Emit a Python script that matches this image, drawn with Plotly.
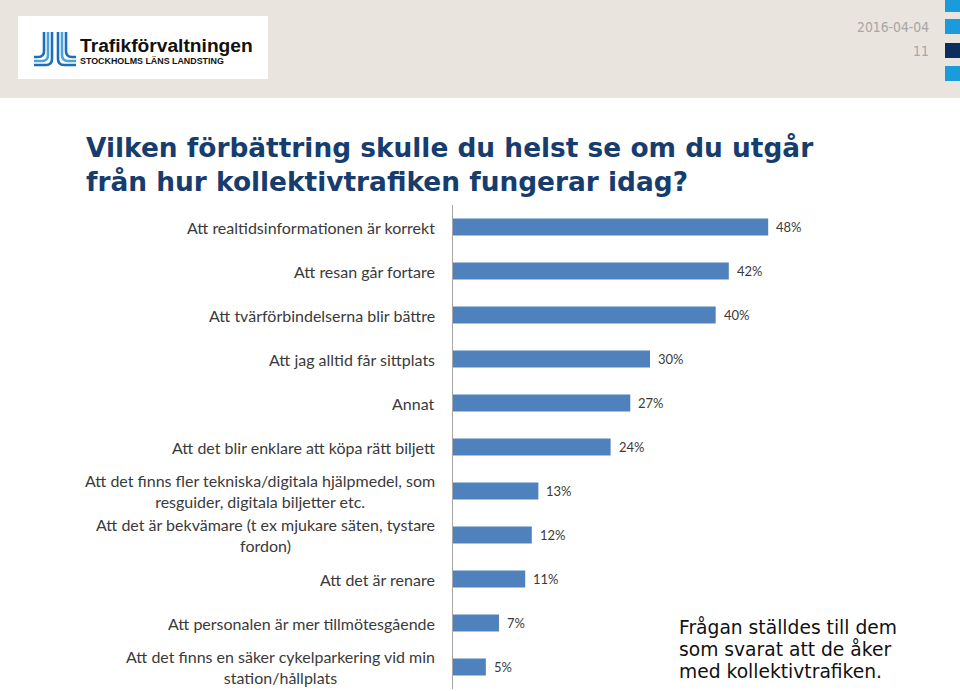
import plotly.graph_objects as go

# ---------------- data ----------------
categories = [
    "Att realtidsinformationen är korrekt",
    "Att resan går fortare",
    "Att tvärförbindelserna blir bättre",
    "Att jag alltid får sittplats",
    "Annat",
    "Att det blir enklare att köpa rätt biljett",
    "Att det finns fler tekniska/digitala hjälpmedel, som<br>resguider, digitala biljetter etc.",
    "Att det är bekvämare (t ex mjukare säten, tystare<br>fordon)",
    "Att det är renare",
    "Att personalen är mer tillmötesgående",
    "Att det finns en säker cykelparkering vid min<br>station/hållplats",
]
values = [48, 42, 40, 30, 27, 24, 13, 12, 11, 7, 5]
value_labels = [f"{v}%" for v in values]

title_lines = [
    "Vilken förbättring skulle du helst se om du utgår",
    "från hur kollektivtrafiken fungerar idag?",
]
note_lines = [
    "Frågan ställdes till dem",
    "som svarat att de åker",
    "med kollektivtrafiken.",
]
date_text = "2016-04-04"
page_text = "11"

# ---------------- geometry helpers ----------------
W, H = 960, 691
PL, PR, PT, PB = 453, 847, 205, 689  # plot area in pixels


def px(x):
    return (x - PL) / (PR - PL)


def py(y):
    return (PB - y) / (PB - PT)


BAR_COLOR = "#4F81BD"
TEXT_COLOR = "#3A3A3A"

fig = go.Figure()
fig.add_trace(go.Bar(
    x=values,
    y=categories,
    orientation="h",
    width=0.39,
    marker=dict(color=BAR_COLOR, line=dict(width=0)),
    hoverinfo="skip",
))

shapes = []
# header band
shapes.append(dict(type="rect", xref="paper", yref="paper",
                   x0=px(0), x1=px(W), y0=py(98), y1=py(0),
                   fillcolor="#EAE4DF", line=dict(width=0), layer="below"))
# logo white box
shapes.append(dict(type="rect", xref="paper", yref="paper",
                   x0=px(18), x1=px(268), y0=py(79), y1=py(16),
                   fillcolor="#FFFFFF", line=dict(width=0), layer="below"))
# right-edge squares
for (y0, y1, c) in [(0, 12, "#1A9BDB"), (19, 34, "#1A9BDB"), (43, 58, "#0B2E5C"), (66, 81, "#1A9BDB")]:
    shapes.append(dict(type="rect", xref="paper", yref="paper",
                       x0=px(945), x1=px(962), y0=py(y1), y1=py(y0),
                       fillcolor=c, line=dict(width=0), layer="below"))


# logo symbol: lines curving outward
def path_left(xv, yh, xend):
    r = 6
    return (f"M {px(xv)} {py(32)} L {px(xv)} {py(yh - r)} "
            f"Q {px(xv)} {py(yh)} {px(xv - r)} {py(yh)} L {px(xend)} {py(yh)}")


def path_right(xv, yh, xend):
    r = 6
    return (f"M {px(xv)} {py(32)} L {px(xv)} {py(yh - r)} "
            f"Q {px(xv)} {py(yh)} {px(xv + r)} {py(yh)} L {px(xend)} {py(yh)}")


sym = [
    (path_left(44, 57, 34), "#1B6FB8"),
    (path_left(48, 61, 34), "#4AA3DF"),
    (path_left(52, 65, 34), "#1B6FB8"),
    (path_right(58, 65, 76), "#1B6FB8"),
    (path_right(62, 61, 76), "#4AA3DF"),
    (path_right(66, 57, 76), "#1B6FB8"),
]
for p, c in sym:
    shapes.append(dict(type="path", xref="paper", yref="paper", path=p,
                       line=dict(color=c, width=2.6), layer="above"))

annotations = []
# category labels
for cat in categories:
    annotations.append(dict(
        x=0, xref="paper", xshift=-16, y=cat, yref="y",
        text=cat, showarrow=False, xanchor="right", yanchor="middle",
        align="center", font=dict(family="Lato", size=16, color=TEXT_COLOR),
    ))
# value labels
for cat, v, lab in zip(categories, values, value_labels):
    annotations.append(dict(
        x=v, xref="x", xshift=6, y=cat, yref="y",
        text=lab, showarrow=False, xanchor="left", yanchor="middle",
        font=dict(family="Lato", size=13, color=TEXT_COLOR),
    ))

# title
annotations.append(dict(
    x=px(84), y=py(130), xref="paper", yref="paper",
    text="<br>".join(f"<b>{t}</b>" for t in title_lines),
    showarrow=False, xanchor="left", yanchor="top", align="left",
    font=dict(family="DejaVu Sans", size=26.4, color="#173C6E"),
))
# note
for i, line in enumerate(note_lines):
    annotations.append(dict(
        x=px(677), y=py(627 + 22 * i), xref="paper", yref="paper",
        text=line, showarrow=False, xanchor="left", yanchor="middle", align="left",
        font=dict(family="DejaVu Sans", size=18.7, color="#111111"),
    ))
# date & page
annotations.append(dict(
    x=px(931), y=py(27), xref="paper", yref="paper", text=date_text,
    showarrow=False, xanchor="right", yanchor="middle",
    font=dict(family="DejaVu Sans Condensed", size=13.8, color="#A6A6A6"),
))
annotations.append(dict(
    x=px(931), y=py(51), xref="paper", yref="paper", text=page_text,
    showarrow=False, xanchor="right", yanchor="middle",
    font=dict(family="DejaVu Sans Condensed", size=13.8, color="#A6A6A6"),
))
# logo texts
annotations.append(dict(
    x=px(78), y=py(45), xref="paper", yref="paper", text="<b>Trafikförvaltningen</b>",
    showarrow=False, xanchor="left", yanchor="middle",
    font=dict(family="Liberation Sans", size=19.2, color="#111111"),
))
annotations.append(dict(
    x=px(78), y=py(61), xref="paper", yref="paper", text="<b>STOCKHOLMS LÄNS LANDSTING</b>",
    showarrow=False, xanchor="left", yanchor="middle",
    font=dict(family="Liberation Sans", size=8.9, color="#111111"),
))

fig.update_layout(
    width=W, height=H,
    margin=dict(l=PL, r=W - PR, t=PT, b=H - PB, pad=0),
    paper_bgcolor="#FFFFFF", plot_bgcolor="#FFFFFF",
    showlegend=False,
    shapes=shapes,
    annotations=annotations,
    xaxis=dict(range=[0, 60], showgrid=False, zeroline=False, showticklabels=False,
               showline=False, ticks="", fixedrange=True),
    yaxis=dict(categoryorder="array", categoryarray=categories, autorange="reversed",
               showticklabels=False, showgrid=False, zeroline=False,
               showline=True, linecolor="#A6A6A6", linewidth=1, ticks="", fixedrange=True),
)

fig.write_html("out.html", config={"displayModeBar": False},
               post_script="document.body.style.margin='0';")
